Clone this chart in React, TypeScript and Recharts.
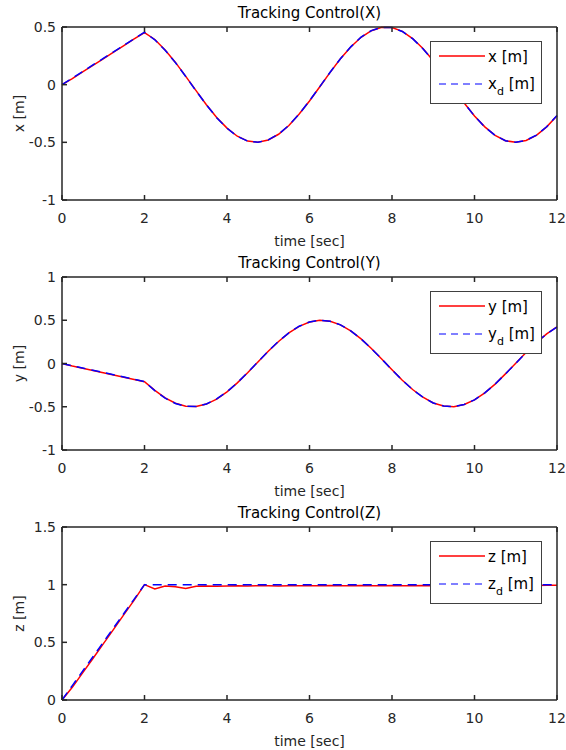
import React from "react";
import { LineChart, Line, XAxis, YAxis, Legend } from "recharts";

// sample times [sec]
const time = [
  0, 0.25, 0.5, 0.75, 1, 1.25, 1.5, 1.75, 2, 2.25, 2.5, 2.75, 3, 3.25, 3.5, 3.75,
  4, 4.25, 4.5, 4.75, 5, 5.25, 5.5, 5.75, 6, 6.25, 6.5, 6.75, 7, 7.25, 7.5, 7.75,
  8, 8.25, 8.5, 8.75, 9, 9.25, 9.5, 9.75, 10, 10.25, 10.5, 10.75, 11, 11.25, 11.5,
  11.75, 12,
];

const xDesired = [
  0, 0.057, 0.114, 0.171, 0.227, 0.284, 0.341, 0.398, 0.455, 0.389, 0.299, 0.191,
  0.071, -0.054, -0.175, -0.286, -0.378, -0.448, -0.489, -0.5, -0.479, -0.429,
  -0.353, -0.254, -0.14, -0.017, 0.108, 0.225, 0.328, 0.412, 0.469, 0.497, 0.495,
  0.461, 0.399, 0.312, 0.206, 0.087, -0.038, -0.16, -0.272, -0.367, -0.44, -0.486,
  -0.5, -0.483, -0.438, -0.365, -0.268,
];
const xActual = [
  0, 0.052, 0.11, 0.168, 0.224, 0.282, 0.338, 0.396, 0.452, 0.392, 0.301, 0.193,
  0.072, -0.052, -0.174, -0.285, -0.377, -0.447, -0.489, -0.499, -0.48, -0.43,
  -0.354, -0.255, -0.141, -0.018, 0.107, 0.224, 0.327, 0.411, 0.468, 0.497, 0.495,
  0.462, 0.4, 0.313, 0.207, 0.088, -0.037, -0.159, -0.271, -0.366, -0.44, -0.486,
  -0.5, -0.484, -0.439, -0.366, -0.27,
];

const yDesired = [
  0, -0.026, -0.052, -0.078, -0.104, -0.13, -0.156, -0.182, -0.208, -0.314, -0.401,
  -0.462, -0.495, -0.497, -0.468, -0.41, -0.327, -0.223, -0.105, 0.019, 0.142,
  0.256, 0.354, 0.431, 0.48, 0.5, 0.488, 0.447, 0.377, 0.284, 0.173, 0.052, -0.073,
  -0.193, -0.301, -0.39, -0.456, -0.492, -0.499, -0.474, -0.42, -0.339, -0.238,
  -0.12, 0.002, 0.127, 0.242, 0.342, 0.422,
];
const yActual = [
  0, -0.03, -0.055, -0.08, -0.106, -0.132, -0.158, -0.184, -0.21, -0.31, -0.398,
  -0.46, -0.494, -0.497, -0.469, -0.411, -0.328, -0.224, -0.106, 0.018, 0.141,
  0.255, 0.353, 0.43, 0.48, 0.5, 0.488, 0.447, 0.377, 0.284, 0.173, 0.052, -0.073,
  -0.193, -0.301, -0.39, -0.456, -0.492, -0.499, -0.474, -0.42, -0.339, -0.238,
  -0.12, 0.002, 0.127, 0.242, 0.342, 0.422,
];

const zDesired = [
  0, 0.125, 0.25, 0.375, 0.5, 0.625, 0.75, 0.875, 1, 1, 1, 1, 1, 1, 1, 1, 1, 1, 1,
  1, 1, 1, 1, 1, 1, 1, 1, 1, 1, 1, 1, 1, 1, 1, 1, 1, 1, 1, 1, 1, 1, 1, 1, 1, 1, 1,
  1, 1, 1,
];
const zActual = [
  0, 0.11, 0.235, 0.36, 0.487, 0.612, 0.74, 0.866, 1.0, 0.962, 0.988, 0.982, 0.966,
  0.986, 0.988, 0.987, 0.989, 0.991, 0.989, 0.991, 0.99, 0.989, 0.991, 0.99, 0.991,
  0.99, 0.992, 0.99, 0.991, 0.992, 0.99, 0.991, 0.992, 0.991, 0.99, 0.992,
  0.991, 0.992, 0.991, 0.992, 0.991, 0.992, 0.991, 0.992, 0.991, 0.992, 0.993,
  0.994, 0.996,
];

const timeTicks = [0, 2, 4, 6, 8, 10, 12];
const xTicks = [-1, -0.5, 0, 0.5];
const yTicks = [-1, -0.5, 0, 0.5, 1];
const zTicks = [0, 0.5, 1, 1.5];

const FONT = '"DejaVu Sans", Verdana, sans-serif';
const INK = "#262626";
const TICK_LEN = 5;

// MATLAB style: ticks point into the axes box
const LeftTick = (props: any) => {
  const { x, y, payload } = props;
  return (
    <g>
      <line x1={x + 6} y1={y} x2={x + 6 + TICK_LEN} y2={y} stroke={INK} strokeWidth={1.5} />
      <text x={x} y={y} dy="0.36em" textAnchor="end" fontSize={14} fontFamily={FONT} fill={INK}>
        {payload.value}
      </text>
    </g>
  );
};

const BottomTick = (props: any) => {
  const { x, y, payload } = props;
  return (
    <g>
      <line x1={x} y1={y - 13} x2={x} y2={y - 13 - TICK_LEN} stroke={INK} strokeWidth={1.5} />
      <text x={x} y={y} dy="0.71em" textAnchor="middle" fontSize={14} fontFamily={FONT} fill={INK}>
        {payload.value}
      </text>
    </g>
  );
};

const TopTick = (props: any) => (
  <line
    x1={props.x}
    y1={props.y}
    x2={props.x}
    y2={props.y + TICK_LEN}
    stroke={INK}
    strokeWidth={1.5}
  />
);

const RightTick = (props: any) => (
  <line
    x1={props.x - TICK_LEN}
    y1={props.y}
    x2={props.x}
    y2={props.y}
    stroke={INK}
    strokeWidth={1.5}
  />
);

const LegendBox = ({ name }: { name: string }) => (
  <svg width={112} height={63} style={{ display: "block" }}>
    <rect x={0.5} y={0.5} width={111} height={62} fill="#fff" stroke="#404040" />
    <line x1={9} y1={15} x2={55} y2={15} stroke="#ff0000" strokeWidth={1.5} />
    <text x={58} y={21} fontSize={15} fontFamily={FONT} fill="#000">
      {name + " [m]"}
    </text>
    <line
      x1={9}
      y1={43}
      x2={55}
      y2={43}
      stroke="#0000ff"
      strokeWidth={1.2}
      strokeDasharray="7 5"
    />
    <text x={58} y={48} fontSize={15} fontFamily={FONT} fill="#000">
      {name}
      <tspan dy={6} fontSize={11}>
        d
      </tspan>
      <tspan dy={-6}>{" [m]"}</tspan>
    </text>
  </svg>
);

interface PanelProps {
  title: string;
  name: string;
  desired: number[];
  actual: number[];
  domain: [number, number];
  ticks: number[];
}

const Panel = ({ title, name, desired, actual, domain, ticks }: PanelProps) => {
  const rows = time.map((t, i) => ({ t, act: actual[i], des: desired[i] }));
  const axisLine = { stroke: INK, strokeWidth: 1.5 };
  return (
    <LineChart
      width={566}
      height={250}
      data={rows}
      margin={{ top: 26, right: 8, bottom: 0, left: 0 }}
    >
      <XAxis
        xAxisId="b"
        dataKey="t"
        type="number"
        domain={[0, 12]}
        ticks={timeTicks}
        height={50}
        tickSize={0}
        tickMargin={13}
        axisLine={axisLine}
        tickLine={false}
        tick={<BottomTick />}
        label={{
          value: "time [sec]",
          position: "insideBottom",
          offset: 4,
          fill: INK,
          fontSize: 14,
          fontFamily: FONT,
        }}
      />
      <XAxis
        xAxisId="t"
        orientation="top"
        dataKey="t"
        type="number"
        domain={[0, 12]}
        ticks={timeTicks}
        height={1}
        tickSize={0}
        tickMargin={0}
        axisLine={axisLine}
        tickLine={false}
        tick={<TopTick />}
        label={{
          value: title,
          position: "top",
          offset: 8,
          fill: "#000",
          fontSize: 15,
          fontFamily: FONT,
        }}
      />
      <YAxis
        yAxisId="l"
        type="number"
        domain={domain}
        ticks={ticks}
        width={62}
        tickSize={0}
        tickMargin={6}
        axisLine={axisLine}
        tickLine={false}
        tick={<LeftTick />}
        label={{
          value: name + " [m]",
          angle: -90,
          position: "insideLeft",
          offset: 19,
          fill: INK,
          fontSize: 14,
          fontFamily: FONT,
          style: { textAnchor: "middle" },
        }}
      />
      <YAxis
        yAxisId="r"
        orientation="right"
        type="number"
        domain={domain}
        ticks={ticks}
        width={1}
        tickSize={0}
        tickMargin={0}
        axisLine={axisLine}
        tickLine={false}
        tick={<RightTick />}
      />
      <Legend
        layout="vertical"
        align="center"
        verticalAlign="middle"
        wrapperStyle={{ top: 41, left: 430, width: 112, height: 63 }}
        content={() => <LegendBox name={name} />}
      />
      <Line
        xAxisId="b"
        yAxisId="l"
        type="linear"
        dataKey="act"
        stroke="#ff0000"
        strokeWidth={1.5}
        dot={false}
        isAnimationActive={false}
      />
      <Line
        xAxisId="b"
        yAxisId="l"
        type="linear"
        dataKey="des"
        stroke="#0000ff"
        strokeWidth={1.5}
        strokeDasharray="9 6"
        dot={false}
        isAnimationActive={false}
      />
    </LineChart>
  );
};

export default function App() {
  return (
    <div
      style={{
        position: "absolute",
        top: 0,
        left: 0,
        width: 566,
        height: 750,
        background: "#fff",
      }}
    >
      <Panel
        title="Tracking Control(X)"
        name="x"
        desired={xDesired}
        actual={xActual}
        domain={[-1, 0.5]}
        ticks={xTicks}
      />
      <Panel
        title="Tracking Control(Y)"
        name="y"
        desired={yDesired}
        actual={yActual}
        domain={[-1, 1]}
        ticks={yTicks}
      />
      <Panel
        title="Tracking Control(Z)"
        name="z"
        desired={zDesired}
        actual={zActual}
        domain={[0, 1.5]}
        ticks={zTicks}
      />
    </div>
  );
}
